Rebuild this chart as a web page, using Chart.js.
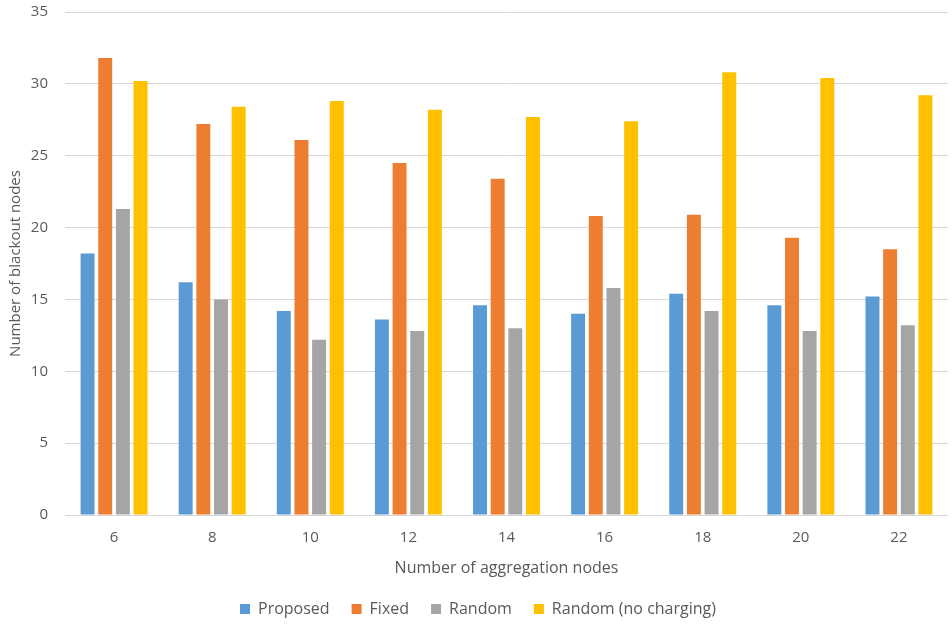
<!DOCTYPE html>
<html>
<head>
<meta charset="utf-8">
<script src="https://cdn.jsdelivr.net/npm/chart.js@4"></script>
<style>
html,body{margin:0;padding:0;background:#fff;}
#wrap{width:952px;height:624px;position:relative;overflow:hidden;}
</style>
</head>
<body>
<div id="wrap"><canvas id="c" width="952" height="624"></canvas></div>
<script>
const categories = ['6','8','10','12','14','16','18','20','22'];
const proposed = [18.2, 16.2, 14.2, 13.6, 14.6, 14.0, 15.4, 14.6, 15.2];
const fixed = [31.8, 27.2, 26.1, 24.5, 23.4, 20.8, 20.9, 19.3, 18.5];
const randomS = [21.3, 15.0, 12.2, 12.8, 13.0, 15.8, 14.2, 12.8, 13.2];
const randomNoCharging = [30.2, 28.4, 28.8, 28.2, 27.7, 27.4, 30.8, 30.4, 29.2];
const seriesNames = ['Proposed','Fixed','Random','Random (no charging)'];
const colors = ['#5B9BD5','#ED7D31','#A5A5A5','#FFC000'];

const FONT = "'Open Sans', sans-serif";
const TXT = '#595959';
const allSeries = [proposed, fixed, randomS, randomNoCharging];

new Chart(document.getElementById('c'), {
  type: 'bar',
  data: {
    labels: categories,
    datasets: allSeries.map((d,i)=>({
      label: seriesNames[i],
      data: d,
      backgroundColor: colors[i],
      borderWidth: 0,
      categoryPercentage: 0.72,
      barPercentage: 0.79
    }))
  },
  options: {
    responsive: false,
    animation: false,
    layout: { padding: { left: 8, right: 4, top: 12, bottom: -3 } },
    plugins: {
      legend: {
        position: 'bottom',
        labels: { boxWidth: 10, boxHeight: 10, color: TXT, font: { family: FONT, size: 16 }, padding: 22 }
      },
      tooltip: { enabled: false }
    },
    scales: {
      x: {
        grid: { display: false, drawTicks: false },
        border: { display: false },
        ticks: { color: TXT, font: { family: FONT, size: 15, lineHeight: 1 }, padding: 15 },
        title: { display: true, text: 'Number of aggregation nodes', color: TXT, font: { family: FONT, size: 16, lineHeight: 1 }, padding: { top: 0, bottom: 3 } }
      },
      y: {
        min: 0, max: 35,
        afterFit: (s) => { s.width = 57; s.paddingTop = 0; s.paddingBottom = 0; },
        ticks: { stepSize: 5, color: TXT, font: { family: FONT, size: 15 }, padding: 17 },
        grid: { color: '#D9D9D9', lineWidth: 1, drawTicks: false },
        border: { display: false },
        title: { display: true, text: 'Number of blackout nodes', color: TXT, font: { family: FONT, size: 15, lineHeight: 1 }, padding: { top: 0, bottom: 0 } }
      }
    }
  }
});
</script>
</body>
</html>
